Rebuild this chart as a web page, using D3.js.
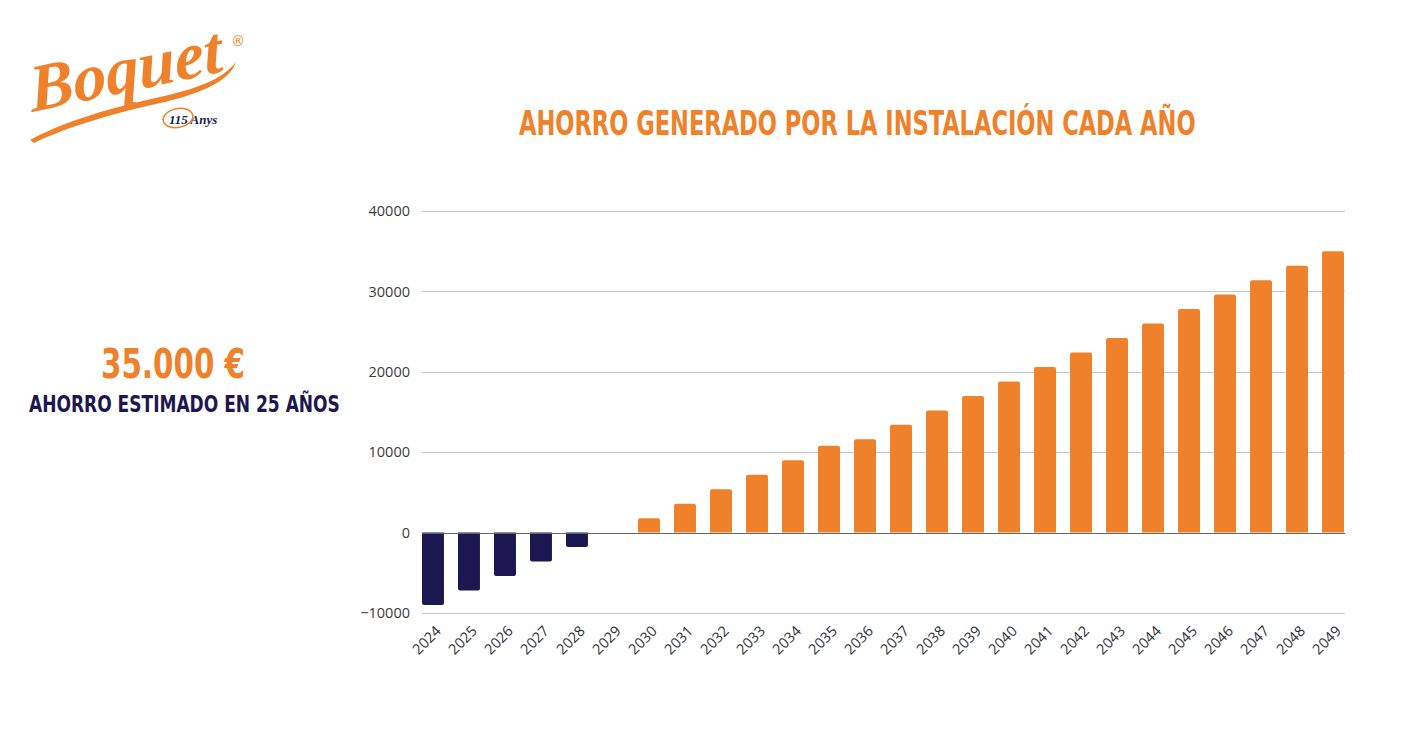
<!DOCTYPE html>
<html>
<head>
<meta charset="utf-8">
<script src="https://cdn.jsdelivr.net/npm/d3@7"></script>
<style>
  html, body { margin: 0; padding: 0; background: #ffffff; }
  svg { display: block; }
</style>
</head>
<body>
<svg id="chart" width="1417" height="749"></svg>
<script>
// ---- data ----
const years = ["2024","2025","2026","2027","2028","2029","2030","2031","2032","2033","2034","2035","2036",
               "2037","2038","2039","2040","2041","2042","2043","2044","2045","2046","2047","2048","2049"];
const savings = [-9000,-7200,-5400,-3600,-1800,0,1800,3600,5400,7200,9000,10800,11600,
                 13400,15200,17000,18800,20600,22400,24200,26000,27800,29600,31400,33200,35000];
const yTicks = [-10000,0,10000,20000,30000,40000];
const chartTitle = "AHORRO GENERADO POR LA INSTALACIÓN CADA AÑO";
const bigValue = "35.000 €";
const bigCaption = "AHORRO ESTIMADO EN 25 AÑOS";

// ---- styles ----
const ORANGE = "#EE8129";
const NAVY = "#1C1750";
const COND = "'DejaVu Sans Condensed', 'DejaVu Sans', sans-serif";
const CAP = 0.729; // DejaVu cap-height ratio

const svg = d3.select("#chart");

// fit a text's natural width to a target by adjusting font-size
function fitWidth(sel, target) {
  const fs = parseFloat(sel.attr("font-size"));
  const w = sel.node().getComputedTextLength();
  if (w > 0) sel.attr("font-size", (fs * target / w).toFixed(2));
  return sel;
}
// place condensed heading text in a box: left x, baseline y, width, cap height
function boxText(parent, str, bx, by, w, cap, color) {
  const t = parent.append("text")
    .attr("x", 0).attr("y", 0)
    .attr("font-family", COND).attr("font-weight", "bold")
    .attr("font-size", 30).attr("fill", color)
    .text(str);
  fitWidth(t, w);
  const fs = parseFloat(t.attr("font-size"));
  const sy = cap / (CAP * fs);
  t.attr("transform", `translate(${bx},${by}) scale(1,${sy.toFixed(3)})`);
  return t;
}

const x = d3.scaleBand().domain(years).range([422, 1344]).paddingInner(0.39).paddingOuter(0);
const y = d3.scaleLinear().domain([-10000, 40000]).range([613, 211]);

// gridlines
svg.append("g").selectAll("line").data(yTicks.filter(d => d !== 0)).join("line")
  .attr("x1", 422).attr("x2", 1345)
  .attr("y1", d => Math.round(y(d)) + 0.5).attr("y2", d => Math.round(y(d)) + 0.5)
  .attr("stroke", "#c6c6c6").attr("stroke-width", 1);

// y axis labels
const yAxis = d3.axisLeft(y).tickValues(yTicks).tickSize(0).tickPadding(12).tickFormat(d3.format("d"));
const gy = svg.append("g").attr("transform", "translate(422,0)").call(yAxis);
gy.select(".domain").remove();
gy.selectAll("text").attr("font-family", "'Open Sans', sans-serif").attr("font-size", 14.5).attr("fill", "#3a3a3a");

// bars with rounded outer corners
const r = 2;
function barPath(d, i) {
  const x0 = x(years[i]), w = x.bandwidth();
  const y0 = y(0), y1 = y(d);
  if (d === 0) return "";
  if (d > 0) {
    return `M${x0},${y0}V${y1 + r}Q${x0},${y1} ${x0 + r},${y1}H${x0 + w - r}Q${x0 + w},${y1} ${x0 + w},${y1 + r}V${y0}Z`;
  } else {
    return `M${x0},${y0}V${y1 - r}Q${x0},${y1} ${x0 + r},${y1}H${x0 + w - r}Q${x0 + w},${y1} ${x0 + w},${y1 - r}V${y0}Z`;
  }
}
svg.append("g").selectAll("path").data(savings).join("path")
  .attr("d", (d, i) => barPath(d, i))
  .attr("fill", d => d < 0 ? NAVY : ORANGE);

// zero baseline
svg.append("line")
  .attr("x1", 422).attr("x2", 1345)
  .attr("y1", Math.round(y(0)) + 0.5).attr("y2", Math.round(y(0)) + 0.5)
  .attr("stroke", "#666").attr("stroke-width", 1);

// x axis labels
const xAxis = d3.axisBottom(x).tickSize(0).tickPadding(0);
const gx = svg.append("g").call(xAxis);
gx.select(".domain").remove();
gx.selectAll(".tick").attr("transform", d => `translate(${x(d) + x.bandwidth() / 2 + 9},632)`);
gx.selectAll("text")
  .attr("font-family", "'Open Sans', sans-serif").attr("font-size", 14.5).attr("fill", "#2f2f3a")
  .attr("text-anchor", "end").attr("dy", 0).attr("y", 0)
  .attr("transform", "rotate(-45)");

// title
boxText(svg, chartTitle, 519, 134.5, 677, 24.5, ORANGE);

// left KPI
boxText(svg, bigValue, 101, 378, 144, 30, ORANGE);
boxText(svg, bigCaption, 29, 411.5, 311, 16.5, NAVY);

// logo
const logo = svg.append("g");
logo.append("path")
  .attr("d", "M30,140 C60,124 100,110 160,97 C195,89 222,80 236,62 C230,80 205,92 165,102 C110,114 70,126 34,143 Z")
  .attr("fill", ORANGE);
fitWidth(logo.append("text")
  .attr("transform", "translate(32,112) rotate(-12) skewX(-6)")
  .attr("font-family", "'Liberation Serif', serif").attr("font-style", "italic").attr("font-weight", "bold")
  .attr("font-size", 68).attr("fill", ORANGE)
  .text("Boquet"), 196);
logo.append("ellipse")
  .attr("cx", 178).attr("cy", 118).attr("rx", 15).attr("ry", 9.5)
  .attr("transform", "rotate(-10,178,118)")
  .attr("fill", "none").attr("stroke", ORANGE).attr("stroke-width", 1.5);
logo.append("text")
  .attr("x", 169).attr("y", 124)
  .attr("font-family", "'Liberation Serif', serif").attr("font-style", "italic").attr("font-weight", "bold")
  .attr("font-size", 13).attr("fill", NAVY)
  .text("115 Anys");
logo.append("text")
  .attr("x", 231).attr("y", 46)
  .attr("font-family", "'DejaVu Sans', sans-serif").attr("font-size", 14).attr("fill", ORANGE)
  .text("®");
</script>
</body>
</html>
